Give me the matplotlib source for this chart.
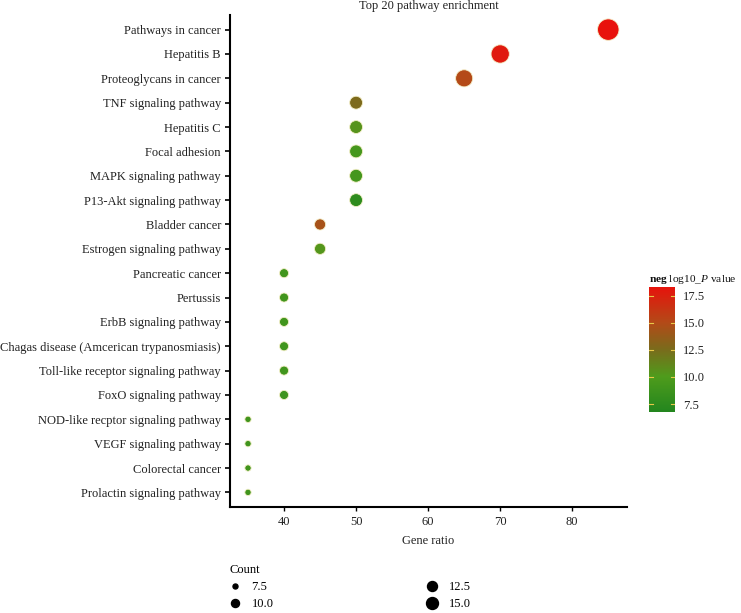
import numpy as np
import matplotlib
matplotlib.use('Agg')
import matplotlib.pyplot as plt
from matplotlib.colors import LinearSegmentedColormap, Normalize
from matplotlib.lines import Line2D

plt.rcParams['font.family'] = ['Liberation Serif', 'DejaVu Serif']
plt.rcParams['mathtext.fontset'] = 'custom'
plt.rcParams['mathtext.rm'] = 'Liberation Serif'
plt.rcParams['mathtext.it'] = 'Liberation Serif:italic'
plt.rcParams['mathtext.bf'] = 'Liberation Serif:bold'

# data (top to bottom)
pathways = ['Pathways in cancer', 'Hepatitis B', 'Proteoglycans in cancer',
            'TNF signaling pathway', 'Hepatitis C', 'Focal adhesion',
            'MAPK signaling pathway', 'P13-Akt signaling pathway', 'Bladder cancer',
            'Estrogen signaling pathway', 'Pancreatic cancer', 'Pertussis',
            'ErbB signaling pathway', 'Chagas disease (Amcerican trypanosmiasis)',
            'Toll-like receptor signaling pathway', 'FoxO signaling pathway',
            'NOD-like recptor signaling pathway', 'VEGF signaling pathway',
            'Colorectal cancer', 'Prolactin signaling pathway']
gene_ratio = [85, 70, 65, 50, 50, 50, 50, 50, 45, 45, 40, 40, 40, 40, 40, 40, 35, 35, 35, 35]
count = [17, 14, 13, 10, 10, 10, 10, 10, 9, 9, 8, 8, 8, 8, 8, 8, 7, 7, 7, 7]
neglog10p = [18.3, 17.8, 15.0, 12.6, 10.5, 9.3, 9.2, 7.6, 14.4, 10.3,
             9.0, 9.0, 9.0, 9.0, 9.0, 8.9, 8.9, 8.9, 8.9, 8.9]
legend_counts = [7.5, 10.0, 12.5, 15.0]
cbar_ticks = [7.5, 10.0, 12.5, 15.0, 17.5]

FS = 9
vmin, vmax = 6.76, 18.33
cmap = LinearSegmentedColormap.from_list('gr', [
    (0.0, '#23861f'), ((10 - vmin) / (vmax - vmin), '#4f9c1c'),
    ((12.5 - vmin) / (vmax - vmin), '#7a6c1c'), ((15 - vmin) / (vmax - vmin), '#b44a18'),
    (1.0, '#e8120c')])
norm = Normalize(vmin, vmax)

W, H = 741, 613
fig = plt.figure(figsize=(W / 100, H / 100), dpi=100)
ax = fig.add_axes([230 / W, 1 - 507 / H, 397 / W, 492 / H])

ypos = np.arange(len(pathways))[::-1]
cnt = np.array(count, dtype=float)
s = 0.5184 * (40 + 42 * (cnt - 7))
ax.scatter(gene_ratio, ypos, s=s, c=neglog10p, cmap=cmap, norm=norm,
           edgecolors='#f4efc8', linewidths=0.6, zorder=3)

ax.set_xlim(32.5, 87.6)
ax.set_ylim(-0.6, len(pathways) - 0.4)
ax.set_yticks(ypos)
ax.set_yticklabels(pathways, fontsize=FS, color='#222222')
ax.set_xticks([40, 50, 60, 70, 80])
ax.tick_params(axis='x', labelsize=FS, labelcolor='#222222', length=3, width=1)
ax.tick_params(axis='y', length=3.5, width=1.2, pad=3)
for sp in ['top', 'right']:
    ax.spines[sp].set_visible(False)
ax.spines['left'].set_linewidth(1.5)
ax.spines['bottom'].set_linewidth(1.5)
ax.set_xlabel('Gene ratio', fontsize=FS, color='#222222', labelpad=5)
ax.set_title('Top 20 pathway enrichment', fontsize=FS, color='#222222', pad=4)

# colour bar
cax = fig.add_axes([649 / W, 1 - 412 / H, 26 / W, 125 / H])
grad = np.linspace(vmin, vmax, 256).reshape(-1, 1)
cax.imshow(grad, aspect='auto', origin='lower', cmap=cmap, norm=norm,
           extent=[0, 1, vmin, vmax])
cax.set_xlim(0, 1)
cax.set_xticks([])
cax.yaxis.tick_right()
cax.set_yticks(cbar_ticks)
cax.set_yticklabels(['%.1f' % t for t in cbar_ticks], fontsize=FS, color='#222222')
cax.tick_params(axis='y', length=0, pad=6)
for t in cbar_ticks:
    cax.plot([0, 0.15], [t, t], color='#e8c848', lw=0.8)
    cax.plot([0.85, 1], [t, t], color='#e8c848', lw=0.8)
for sp in cax.spines.values():
    sp.set_visible(False)
fig.text(649 / W, 1 - 286 / H, r'$\mathbf{neg}$ log10_$\mathit{P}$ value',
         fontsize=8.2, color='#111111', va='bottom', ha='left')

# count legend
msizes = [3.6, 5.8, 7.2, 8.6]
handles = [Line2D([], [], ls='none', marker='o', color='black', markersize=m)
           for m in msizes]
leg = fig.legend(handles, ['%.1f' % c for c in legend_counts], title='Count',
                 loc='upper left', bbox_to_anchor=(224 / W, 1 - 559 / H), ncol=2,
                 frameon=False, fontsize=FS, title_fontsize=FS,
                 columnspacing=12.2, handletextpad=0.8, handlelength=1.0,
                 labelspacing=0.4, borderaxespad=0, alignment='left')

fig.savefig('out.png', dpi=100)
